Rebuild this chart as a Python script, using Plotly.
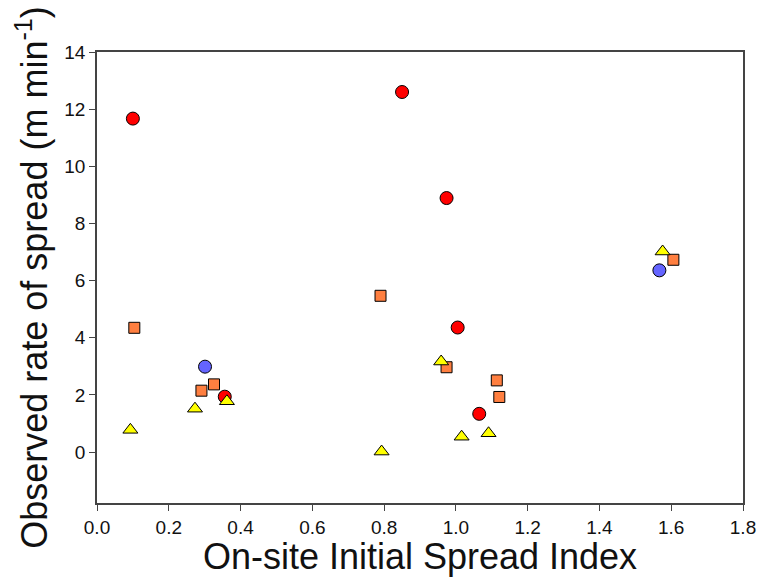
import plotly.graph_objects as go

# On-site Initial Spread Index (x) vs observed rate of spread (y), by group
red_x = [0.100, 0.850, 0.974, 1.005, 1.065, 0.356]
red_y = [11.67, 12.60, 8.89, 4.36, 1.34, 1.94]

blue_x = [1.567, 0.301]
blue_y = [6.36, 2.99]

orange_x = [0.104, 0.291, 0.326, 0.790, 0.974, 1.114, 1.121, 1.606]
orange_y = [4.35, 2.15, 2.37, 5.47, 2.97, 2.51, 1.93, 6.73]

yellow_x = [0.093, 0.273, 0.362, 0.793, 0.959, 1.016, 1.091, 1.576]
yellow_y = [0.78, 1.52, 1.78, 0.02, 3.17, 0.54, 0.66, 7.02]

x_ticks = [0.0, 0.2, 0.4, 0.6, 0.8, 1.0, 1.2, 1.4, 1.6, 1.8]
y_ticks = [0, 2, 4, 6, 8, 10, 12, 14]

FONT = "Liberation Sans, Arial, sans-serif"
OUTLINE = dict(color="black", width=1)

fig = go.Figure()
fig.add_trace(go.Scatter(x=orange_x, y=orange_y, mode="markers",
                         marker=dict(symbol="square", size=11, color="#FF7F40", line=OUTLINE)))
fig.add_trace(go.Scatter(x=red_x, y=red_y, mode="markers",
                         marker=dict(symbol="circle", size=13, color="#FF0000", line=OUTLINE)))
fig.add_trace(go.Scatter(x=blue_x, y=blue_y, mode="markers",
                         marker=dict(symbol="circle", size=13, color="#6464FF", line=OUTLINE)))
fig.add_trace(go.Scatter(x=yellow_x, y=yellow_y, mode="markers",
                         marker=dict(symbol="triangle-up", size=13, color="#FFFF00", line=OUTLINE)))

axis_common = dict(
    showline=True, linecolor="#444444", linewidth=1.5, mirror=True,
    ticks="outside", ticklen=6, tickwidth=1.2, tickcolor="#444444",
    showgrid=False, zeroline=False, automargin=False,
    tickfont=dict(family=FONT, size=19, color="#111111"),
)

fig.update_layout(
    width=760, height=577,
    margin=dict(l=97, r=17, t=52, b=74),
    paper_bgcolor="white", plot_bgcolor="white",
    showlegend=False,
    font=dict(family=FONT, color="#111111"),
    xaxis=dict(range=[0, 1.8], tickvals=x_ticks,
               ticktext=[f"{v:.1f}" for v in x_ticks],
               title=dict(text="On-site Initial Spread Index",
                          font=dict(family=FONT, size=36), standoff=6),
               **axis_common),
    yaxis=dict(range=[-1.78, 14], tickvals=y_ticks,
               title=dict(text="Observed rate of spread (m min<sup>-1</sup>)",
                          font=dict(family=FONT, size=36), standoff=6),
               **axis_common),
)

fig.write_html("out.html")
